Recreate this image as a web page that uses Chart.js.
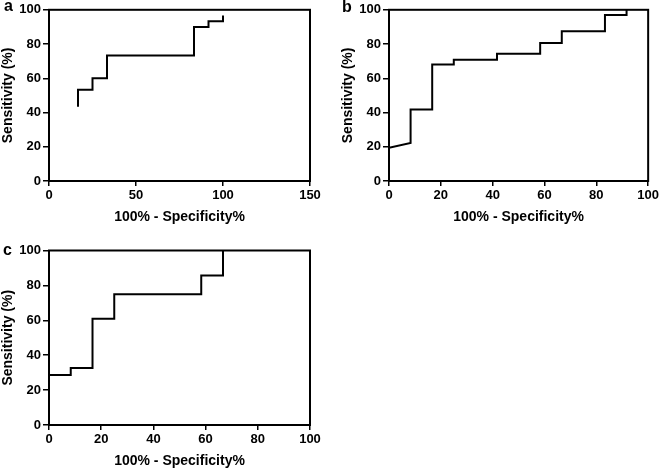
<!DOCTYPE html>
<html>
<head>
<meta charset="utf-8">
<script src="https://cdn.jsdelivr.net/npm/chart.js@4.4.1/dist/chart.umd.min.js"></script>
<style>
    html, body { margin: 0; padding: 0; background: #fff; overflow: hidden; }
    body { width: 661px; height: 468px; position: relative; }
    .panel { position: absolute; }
    .panel canvas { display: block; }
    .letter {
        position: absolute;
        font: bold 16px "Liberation Sans", Arial, sans-serif;
        line-height: 16px;
        color: #000;
    }
</style>
</head>
<body>
<div class="panel" style="left:0;top:0;width:330px;height:230px"><canvas id="chartA" width="330" height="230"></canvas></div>
<div class="panel" style="left:330px;top:0;width:331px;height:230px"><canvas id="chartB" width="331" height="230"></canvas></div>
<div class="panel" style="left:0;top:230px;width:330px;height:244px"><canvas id="chartC" width="330" height="244"></canvas></div>
<div class="letter" style="left:4px;top:-2px">a</div>
<div class="letter" style="left:342px;top:-1px">b</div>
<div class="letter" style="left:3px;top:242px">c</div>

<script>
// ROC curves: x = 100% - specificity, y = sensitivity
const fprA = [16.67, 16.67, 25, 25, 33.33, 33.33, 83.33, 83.33, 91.67, 91.67, 100, 100];
const sensA = [43.3, 53.3, 53.3, 60, 60, 73.3, 73.3, 90, 90, 93.3, 93.3, 96.7];

const fprB = [0, 8.33, 8.33, 16.67, 16.67, 25, 25, 41.67, 41.67, 58.33, 58.33, 66.67, 66.67, 83.33, 83.33, 91.67, 91.67];
const sensB = [19.4, 22.2, 41.7, 41.7, 68.1, 68.1, 70.8, 70.8, 74.4, 74.4, 80.6, 80.6, 87.5, 87.5, 96.9, 96.9, 100];

const fprC = [0, 8.33, 8.33, 16.67, 16.67, 25, 25, 58.33, 58.33, 66.67, 66.67];
const sensC = [28.6, 28.6, 32.7, 32.7, 60.9, 60.9, 75, 75, 85.7, 85.7, 100];

const xTicksA = [0, 50, 100, 150];
const xTicksBC = [0, 20, 40, 60, 80, 100];
const yTicks = [0, 20, 40, 60, 80, 100];

const X_TITLE = '100% - Specificity%';
const Y_TITLE = 'Sensitivity (%)';

const FONT = '"Liberation Sans", Arial, sans-serif';

// box round the plot area
const framePlugin = {
    id: 'frame',
    beforeDatasetsDraw(chart) {
        const { ctx, chartArea: a } = chart;
        ctx.save();
        ctx.strokeStyle = '#000';
        ctx.lineWidth = 2;
        ctx.strokeRect(a.left, a.top, a.right - a.left, a.bottom - a.top);
        ctx.restore();
    }
};

function makeRoc(id, fpr, sens, xTicks, padding) {
    const points = fpr.map((x, i) => ({ x: x, y: sens[i] }));
    const ctx = document.getElementById(id).getContext('2d');
    return new Chart(ctx, {
        type: 'scatter',
        data: {
            datasets: [{
                data: points,
                showLine: true,
                borderColor: '#000',
                borderWidth: 2,
                pointRadius: 0,
                tension: 0
            }]
        },
        options: {
            responsive: false,
            animation: false,
            layout: { padding: padding },
            plugins: {
                legend: { display: false },
                tooltip: { enabled: false }
            },
            scales: {
                x: {
                    type: 'linear',
                    min: xTicks[0],
                    max: xTicks[xTicks.length - 1],
                    afterBuildTicks: s => { s.ticks = xTicks.map(v => ({ value: v })); },
                    afterFit: s => { s.height = 49; },
                    ticks: {
                        color: '#000',
                        padding: 2,
                        maxRotation: 0,
                        font: { family: FONT, size: 13, weight: 'bold' }
                    },
                    grid: {
                        drawOnChartArea: false,
                        drawTicks: true,
                        tickLength: 5,
                        color: '#000',
                        lineWidth: 1.5
                    },
                    border: { color: '#000', width: 2 },
                    title: {
                        display: true,
                        text: X_TITLE,
                        color: '#000',
                        padding: { top: 0, bottom: 4.5 },
                        font: { family: FONT, size: 14, weight: 'bold', lineHeight: 1.2 }
                    }
                },
                y: {
                    type: 'linear',
                    min: 0,
                    max: 100,
                    afterBuildTicks: s => { s.ticks = yTicks.map(v => ({ value: v })); },
                    afterFit: s => { s.width = 49; },
                    ticks: {
                        color: '#000',
                        padding: 2,
                        font: { family: FONT, size: 13, weight: 'bold' }
                    },
                    grid: {
                        drawOnChartArea: false,
                        drawTicks: true,
                        tickLength: 6,
                        color: '#000',
                        lineWidth: 1.5
                    },
                    border: { color: '#000', width: 2 },
                    title: {
                        display: true,
                        text: Y_TITLE,
                        color: '#000',
                        padding: 0,
                        font: { family: FONT, size: 14, weight: 'bold', lineHeight: 1.1 }
                    }
                }
            }
        },
        plugins: [framePlugin]
    });
}

makeRoc('chartA', fprA, sensA, xTicksA, { top: 7, right: 20, left: 0, bottom: 0 });
makeRoc('chartB', fprB, sensB, xTicksBC, { top: 7, right: 11, left: 10, bottom: 0 });
makeRoc('chartC', fprC, sensC, xTicksBC, { top: 20.5, right: 20, left: 0, bottom: 0 });
</script>
</body>
</html>
